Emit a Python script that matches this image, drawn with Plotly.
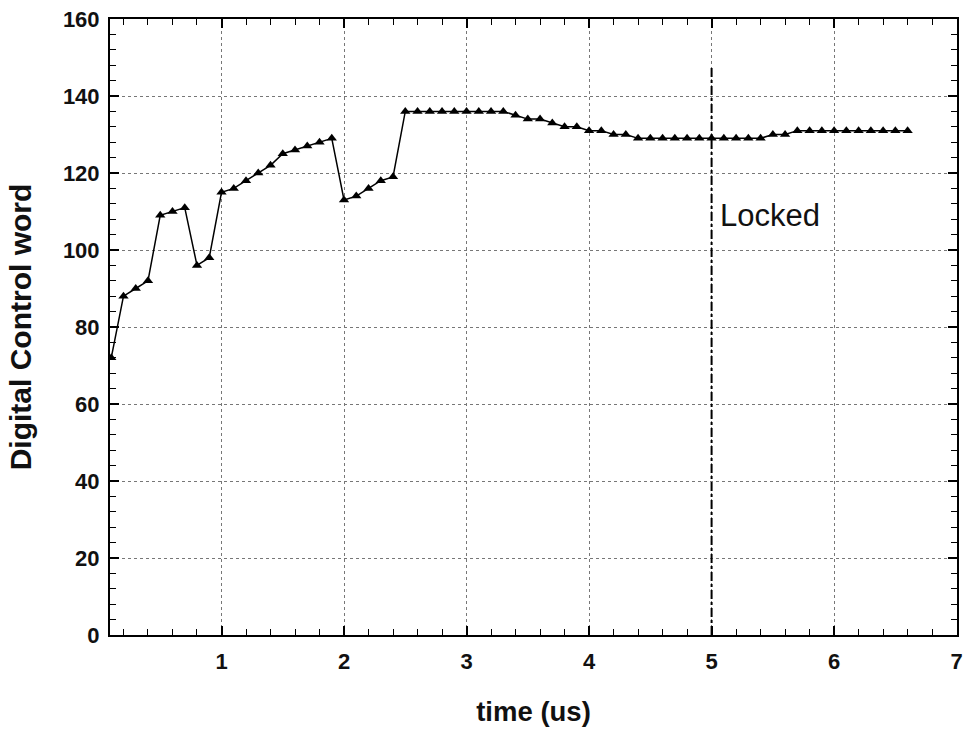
import plotly.graph_objects as go

# Sample times (us) and the digital control word at each step
time_us = [round(0.1 * k, 1) for k in range(1, 67)]
control_word = [
    72, 88, 90, 92, 109, 110, 111, 96, 98, 115,
    116, 118, 120, 122, 125, 126, 127, 128, 129, 113,
    114, 116, 118, 119, 136, 136, 136, 136, 136, 136,
    136, 136, 136, 135, 134, 134, 133, 132, 132, 131,
    131, 130, 130, 129, 129, 129, 129, 129, 129, 129,
    129, 129, 129, 129, 130, 130, 131, 131, 131, 131,
    131, 131, 131, 131, 131, 131,
]

lock_time = 5
lock_marker_top = 148
lock_label = "Locked"

x_ticks = [1, 2, 3, 4, 5, 6, 7]
y_ticks = [0, 20, 40, 60, 80, 100, 120, 140, 160]

FONT = "Liberation Sans, Arial, sans-serif"

fig = go.Figure()

fig.add_trace(go.Scatter(
    x=time_us, y=control_word,
    mode="lines+markers",
    line=dict(color="black", width=1.5),
    marker=dict(symbol="triangle-up", size=9, color="black"),
    showlegend=False,
))

# Vertical lock-in marker
fig.add_trace(go.Scatter(
    x=[lock_time, lock_time], y=[0, lock_marker_top],
    mode="lines",
    line=dict(color="black", width=2, dash="dashdot"),
    showlegend=False,
))

fig.add_annotation(
    x=lock_time, y=109, xref="x", yref="y",
    text=lock_label, showarrow=False,
    xanchor="left", yanchor="middle", xshift=6,
    font=dict(family=FONT, size=31, color="#111"),
)

axis_common = dict(
    showline=True, linecolor="black", linewidth=2, mirror="allticks",
    ticks="inside", ticklen=9, tickwidth=1.5, tickcolor="black",
    showgrid=True, gridcolor="#777", griddash="dot", gridwidth=1,
    zeroline=False, automargin=False,
    tickfont=dict(family=FONT, size=22, color="#111", weight="bold"),
)

fig.update_xaxes(
    **axis_common,
    range=[0.09, 7.003],
    tickvals=x_ticks,
    ticktext=[str(v) for v in x_ticks],
    minor=dict(ticks="inside", dtick=0.2, ticklen=6, tickwidth=1.2,
               tickcolor="black", showgrid=False),
    ticklabelstandoff=6,
    title=dict(text="time (us)", standoff=28,
               font=dict(family=FONT, size=27.5, color="#111", weight="bold")),
)

fig.update_yaxes(
    **axis_common,
    range=[0, 160],
    tickvals=y_ticks,
    ticktext=[str(v) for v in y_ticks],
    minor=dict(ticks="inside", dtick=4, ticklen=6, tickwidth=1.2,
               tickcolor="black", showgrid=False),
    ticklabelstandoff=4,
    title=dict(text="Digital Control word", standoff=22,
               font=dict(family=FONT, size=30, color="#111", weight="bold")),
)

fig.update_layout(
    width=963, height=730,
    margin=dict(l=110, r=6, t=19, b=95),
    paper_bgcolor="white", plot_bgcolor="white",
    font=dict(family=FONT),
)

fig.write_html("out.html")
